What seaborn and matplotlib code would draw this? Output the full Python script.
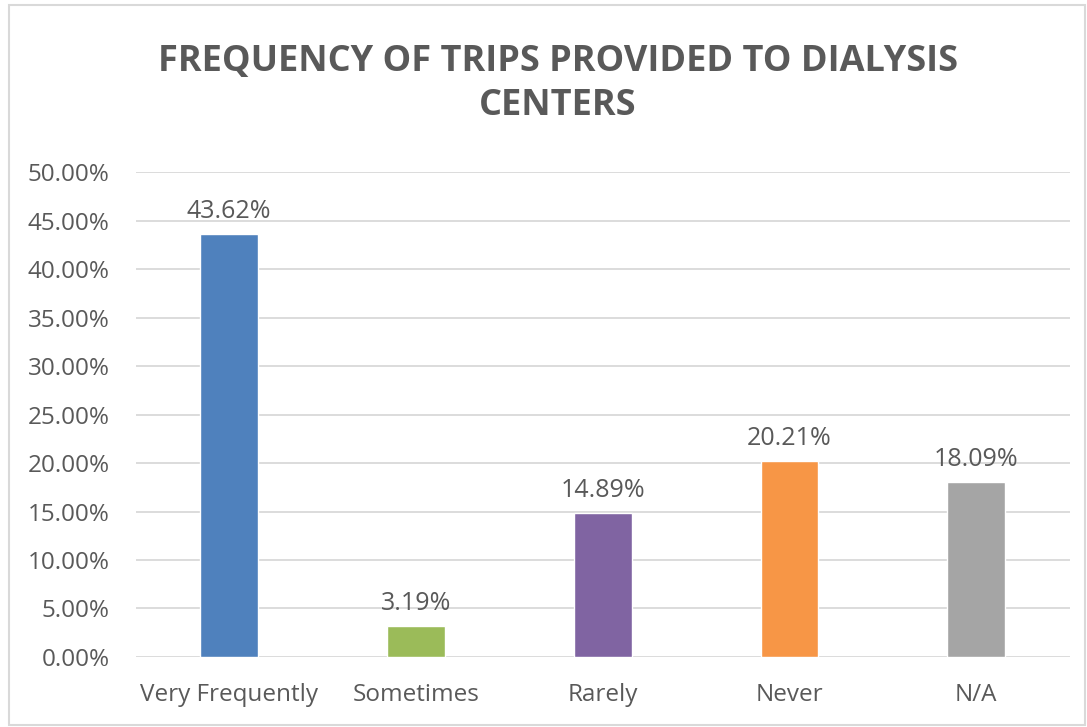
import matplotlib
matplotlib.use("Agg")
import matplotlib.pyplot as plt
import seaborn as sns
import pandas as pd
from matplotlib.ticker import MultipleLocator, FuncFormatter
from matplotlib.patches import Rectangle

# Data
categories = ["Very Frequently", "Sometimes", "Rarely", "Never", "N/A"]
percentages = [43.62, 3.19, 14.89, 20.21, 18.09]
bar_colors = ["#4F81BD", "#9BBB59", "#8064A2", "#F79646", "#A5A5A5"]

df = pd.DataFrame({"category": categories, "pct": percentages})

sns.set_style("white")
plt.rcParams["font.family"] = ["Open Sans", "DejaVu Sans"]
text_color = "#595959"

fig = plt.figure(figsize=(10.87, 7.27), dpi=100)
ax = fig.add_axes([0.125, 0.0963, 0.859, 0.667])

sns.barplot(data=df, x="category", y="pct", hue="category",
            palette=bar_colors, width=0.31, legend=False, ax=ax,
            saturation=1)

ax.set_ylim(0, 50)
ax.yaxis.set_major_locator(MultipleLocator(5))
ax.yaxis.set_major_formatter(FuncFormatter(lambda v, p: f"{v:.2f}%"))
ax.grid(axis="y", color="#D9D9D9", linewidth=1.3)
ax.set_axisbelow(True)
for s in ax.spines.values():
    s.set_visible(False)
ax.tick_params(axis="both", length=0, labelsize=17.5, labelcolor=text_color)
ax.tick_params(axis="y", pad=19)
ax.tick_params(axis="x", pad=19)
ax.set_xlabel("")
ax.set_ylabel("")

# value labels
for container in ax.containers:
    ax.bar_label(container, fmt="%.2f%%", padding=7, fontsize=18, color=text_color)

fig.text(0.513, 0.884, "FREQUENCY OF TRIPS PROVIDED TO DIALYSIS\nCENTERS",
         ha="center", va="center", fontsize=26, fontweight="bold",
         color=text_color, linespacing=1.3)

# outer chart border
fig.patches.append(Rectangle((0.008, 0.003), 0.99, 0.99, transform=fig.transFigure,
                             fill=False, edgecolor="#D9D9D9", linewidth=1.5))

fig.savefig("out.png", dpi=100)
